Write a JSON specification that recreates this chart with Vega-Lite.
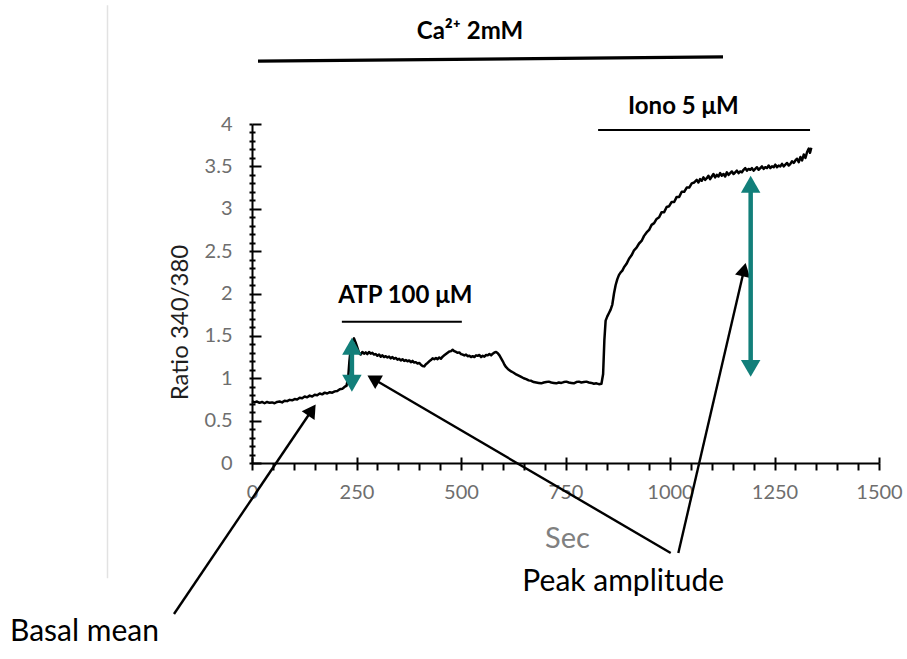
{
  "$schema": "https://vega.github.io/schema/vega-lite/v6.json",
  "autosize": "none",
  "width": 627,
  "height": 339,
  "padding": {"left": 252, "top": 124, "right": 28, "bottom": 196},
  "background": "white",
  "config": {"view": {"stroke": null}},
  "resolve": {"axis": {"x": "independent", "y": "independent"}},
  "datasets": {
    "trace": [
      {"t":0,"r":0.73},{"t":6,"r":0.715},{"t":12,"r":0.725},{"t":18,"r":0.71},{"t":24,"r":0.72},{"t":30,"r":0.705},{"t":36,"r":0.72},{"t":42,"r":0.71},{"t":48,"r":0.715},{"t":54,"r":0.705},{"t":60,"r":0.72},{"t":66,"r":0.725},{"t":72,"r":0.715},{"t":78,"r":0.735},{"t":84,"r":0.73},{"t":90,"r":0.745},{"t":96,"r":0.74},{"t":102,"r":0.755},{"t":108,"r":0.75},{"t":114,"r":0.77},{"t":120,"r":0.765},{"t":126,"r":0.785},{"t":132,"r":0.775},{"t":138,"r":0.795},{"t":144,"r":0.785},{"t":150,"r":0.805},{"t":156,"r":0.8},{"t":162,"r":0.82},{"t":168,"r":0.81},{"t":174,"r":0.83},{"t":180,"r":0.82},{"t":186,"r":0.835},{"t":192,"r":0.83},{"t":198,"r":0.845},{"t":204,"r":0.85},{"t":210,"r":0.87},{"t":216,"r":0.875},{"t":222,"r":0.9},{"t":226,"r":0.91},{"t":230,"r":1.0},{"t":233,"r":1.2},{"t":236,"r":1.34},{"t":240,"r":1.43},{"t":244,"r":1.47},{"t":248,"r":1.42},{"t":252,"r":1.36},{"t":256,"r":1.3},{"t":260,"r":1.28},{"t":264,"r":1.31},{"t":268,"r":1.29},{"t":272,"r":1.305},{"t":276,"r":1.285},{"t":280,"r":1.31},{"t":284,"r":1.29},{"t":288,"r":1.3},{"t":292,"r":1.28},{"t":296,"r":1.285},{"t":300,"r":1.265},{"t":304,"r":1.28},{"t":308,"r":1.255},{"t":312,"r":1.27},{"t":316,"r":1.25},{"t":320,"r":1.26},{"t":324,"r":1.245},{"t":328,"r":1.255},{"t":332,"r":1.235},{"t":336,"r":1.25},{"t":340,"r":1.23},{"t":344,"r":1.24},{"t":348,"r":1.22},{"t":352,"r":1.23},{"t":356,"r":1.21},{"t":360,"r":1.225},{"t":364,"r":1.205},{"t":368,"r":1.215},{"t":372,"r":1.2},{"t":376,"r":1.21},{"t":380,"r":1.19},{"t":384,"r":1.205},{"t":388,"r":1.185},{"t":392,"r":1.19},{"t":396,"r":1.175},{"t":400,"r":1.18},{"t":404,"r":1.16},{"t":408,"r":1.145},{"t":412,"r":1.14},{"t":416,"r":1.165},{"t":420,"r":1.18},{"t":424,"r":1.2},{"t":428,"r":1.215},{"t":432,"r":1.235},{"t":436,"r":1.225},{"t":440,"r":1.24},{"t":444,"r":1.225},{"t":448,"r":1.245},{"t":452,"r":1.23},{"t":456,"r":1.255},{"t":460,"r":1.27},{"t":464,"r":1.285},{"t":468,"r":1.3},{"t":472,"r":1.315},{"t":476,"r":1.32},{"t":480,"r":1.335},{"t":484,"r":1.32},{"t":488,"r":1.31},{"t":492,"r":1.3},{"t":496,"r":1.305},{"t":500,"r":1.285},{"t":504,"r":1.28},{"t":508,"r":1.27},{"t":512,"r":1.28},{"t":516,"r":1.26},{"t":520,"r":1.265},{"t":524,"r":1.25},{"t":528,"r":1.26},{"t":532,"r":1.25},{"t":536,"r":1.27},{"t":540,"r":1.265},{"t":544,"r":1.275},{"t":548,"r":1.25},{"t":552,"r":1.265},{"t":556,"r":1.255},{"t":560,"r":1.275},{"t":564,"r":1.27},{"t":568,"r":1.285},{"t":572,"r":1.27},{"t":576,"r":1.29},{"t":580,"r":1.305},{"t":584,"r":1.31},{"t":588,"r":1.295},{"t":592,"r":1.27},{"t":596,"r":1.235},{"t":600,"r":1.2},{"t":604,"r":1.16},{"t":608,"r":1.13},{"t":612,"r":1.11},{"t":616,"r":1.095},{"t":620,"r":1.08},{"t":626,"r":1.065},{"t":632,"r":1.045},{"t":638,"r":1.03},{"t":644,"r":1.015},{"t":650,"r":1.0},{"t":656,"r":0.99},{"t":662,"r":0.975},{"t":668,"r":0.97},{"t":674,"r":0.955},{"t":680,"r":0.95},{"t":686,"r":0.945},{"t":692,"r":0.94},{"t":698,"r":0.95},{"t":704,"r":0.955},{"t":710,"r":0.96},{"t":716,"r":0.95},{"t":722,"r":0.945},{"t":728,"r":0.94},{"t":734,"r":0.95},{"t":740,"r":0.945},{"t":746,"r":0.955},{"t":752,"r":0.96},{"t":758,"r":0.95},{"t":764,"r":0.945},{"t":770,"r":0.94},{"t":776,"r":0.955},{"t":782,"r":0.96},{"t":788,"r":0.95},{"t":794,"r":0.955},{"t":800,"r":0.96},{"t":806,"r":0.95},{"t":812,"r":0.945},{"t":818,"r":0.935},{"t":824,"r":0.94},{"t":830,"r":0.93},{"t":836,"r":0.935},{"t":840,"r":1.05},{"t":843,"r":1.45},{"t":846,"r":1.68},{"t":850,"r":1.73},{"t":854,"r":1.77},{"t":858,"r":1.81},{"t":862,"r":1.87},{"t":866,"r":2.0},{"t":870,"r":2.1},{"t":874,"r":2.17},{"t":878,"r":2.22},{"t":882,"r":2.25},{"t":886,"r":2.27},{"t":890,"r":2.31},{"t":896,"r":2.35},{"t":902,"r":2.41},{"t":908,"r":2.45},{"t":914,"r":2.51},{"t":920,"r":2.54},{"t":926,"r":2.59},{"t":932,"r":2.62},{"t":938,"r":2.68},{"t":944,"r":2.72},{"t":950,"r":2.75},{"t":956,"r":2.81},{"t":962,"r":2.83},{"t":968,"r":2.88},{"t":974,"r":2.9},{"t":980,"r":2.96},{"t":986,"r":2.96},{"t":992,"r":3.02},{"t":998,"r":3.03},{"t":1004,"r":3.08},{"t":1010,"r":3.08},{"t":1016,"r":3.14},{"t":1022,"r":3.14},{"t":1028,"r":3.2},{"t":1034,"r":3.2},{"t":1040,"r":3.25},{"t":1046,"r":3.25},{"t":1052,"r":3.3},{"t":1058,"r":3.31},{"t":1064,"r":3.34},{"t":1068,"r":3.31},{"t":1072,"r":3.35},{"t":1076,"r":3.33},{"t":1080,"r":3.37},{"t":1084,"r":3.34},{"t":1088,"r":3.36},{"t":1092,"r":3.39},{"t":1096,"r":3.35},{"t":1100,"r":3.38},{"t":1104,"r":3.41},{"t":1108,"r":3.37},{"t":1112,"r":3.4},{"t":1116,"r":3.38},{"t":1120,"r":3.42},{"t":1124,"r":3.39},{"t":1128,"r":3.41},{"t":1132,"r":3.38},{"t":1136,"r":3.43},{"t":1140,"r":3.4},{"t":1144,"r":3.42},{"t":1148,"r":3.44},{"t":1152,"r":3.41},{"t":1156,"r":3.43},{"t":1160,"r":3.45},{"t":1164,"r":3.42},{"t":1168,"r":3.44},{"t":1172,"r":3.43},{"t":1176,"r":3.46},{"t":1180,"r":3.48},{"t":1184,"r":3.45},{"t":1188,"r":3.47},{"t":1192,"r":3.46},{"t":1196,"r":3.48},{"t":1200,"r":3.45},{"t":1204,"r":3.47},{"t":1208,"r":3.49},{"t":1212,"r":3.46},{"t":1216,"r":3.48},{"t":1220,"r":3.5},{"t":1224,"r":3.47},{"t":1228,"r":3.49},{"t":1232,"r":3.48},{"t":1236,"r":3.51},{"t":1240,"r":3.48},{"t":1244,"r":3.5},{"t":1248,"r":3.49},{"t":1252,"r":3.52},{"t":1256,"r":3.49},{"t":1260,"r":3.51},{"t":1264,"r":3.5},{"t":1268,"r":3.53},{"t":1272,"r":3.5},{"t":1276,"r":3.52},{"t":1280,"r":3.54},{"t":1284,"r":3.51},{"t":1288,"r":3.53},{"t":1292,"r":3.56},{"t":1296,"r":3.54},{"t":1300,"r":3.57},{"t":1304,"r":3.59},{"t":1308,"r":3.55},{"t":1312,"r":3.61},{"t":1316,"r":3.57},{"t":1320,"r":3.64},{"t":1324,"r":3.6},{"t":1328,"r":3.67},{"t":1332,"r":3.71},{"t":1335,"r":3.66},{"t":1338,"r":3.72}
    ]
  },
  "layer": [
    {
      "data": {"values": [{"x": -345.7, "y": 5.40, "y2": -1.36}]},
      "mark": {"type": "rule", "color": "#e2e2e2", "strokeWidth": 1.5},
      "encoding": {
        "x": {"field": "x", "type": "quantitative", "scale": {"domain": [0, 1500], "nice": false}, "axis": null},
        "y": {"field": "y", "type": "quantitative", "scale": {"domain": [0, 4], "nice": false}, "axis": null},
        "y2": {"field": "y2"}
      }
    },
    {
      "data": {"name": "trace"},
      "mark": {"type": "line", "color": "black", "strokeWidth": 2.5, "strokeJoin": "round"},
      "encoding": {
        "x": {
          "field": "t", "type": "quantitative",
          "scale": {"domain": [0, 1500], "nice": false},
          "axis": {
            "orient": "bottom",
            "values": [0,50,100,150,200,250,300,350,400,450,500,550,600,650,700,750,800,850,900,950,1000,1050,1100,1150,1200,1250,1300,1350,1400,1450,1500],
            "labelExpr": "datum.value % 250 === 0 ? '' + datum.value : ''",
            "grid": false, "domainColor": "black", "domainWidth": 2,
            "tickColor": "black", "tickWidth": 2, "tickSize": 7,
            "labelFont": "Lato", "labelFontSize": 20, "labelColor": "#6e6e6e", "labelPadding": 12,
            "labelOverlap": false, "labelFlush": false,
            "title": "Sec", "titleFont": "Lato", "titleFontSize": 29, "titleFontWeight": "normal",
            "titleColor": "#808080", "titleX": 315, "titleY": 75, "titleBaseline": "middle", "titleAlign": "center"
          }
        },
        "y": {
          "field": "r", "type": "quantitative",
          "scale": {"domain": [0, 4], "nice": false},
          "axis": {
            "orient": "left",
            "values": [0,0.1,0.2,0.3,0.4,0.5,0.6,0.7,0.8,0.9,1,1.1,1.2,1.3,1.4,1.5,1.6,1.7,1.8,1.9,2,2.1,2.2,2.3,2.4,2.5,2.6,2.7,2.8,2.9,3,3.1,3.2,3.3,3.4,3.5,3.6,3.7,3.8,3.9,4],
            "labelExpr": "abs(datum.value * 2 - round(datum.value * 2)) < 0.001 ? '' + datum.value : ''",
            "grid": false, "domainColor": "black", "domainWidth": 2,
            "tickColor": "black", "tickWidth": 2, "tickSize": 3,
            "labelFont": "Lato", "labelFontSize": 20, "labelColor": "#6e6e6e", "labelPadding": 17,
            "labelOverlap": false, "labelFlush": false,
            "title": "Ratio 340/380", "titleFont": "Lato", "titleFontSize": 24, "titleFontWeight": "normal",
            "titleColor": "#1e1e1e", "titleX": -72, "titleY": 198, "titleBaseline": "middle", "titleAlign": "center", "titleAngle": -90
          }
        }
      }
    },
    {
      "data": {"values": [{"x": 215, "x2": 502, "y": 1.667}]},
      "mark": {"type": "rule", "color": "black", "strokeWidth": 2},
      "encoding": {
        "x": {
          "field": "x", "type": "quantitative",
          "scale": {"domain": [0, 1500], "nice": false},
          "axis": {
            "orient": "bottom",
            "values": [0,250,500,750,1000,1250,1500],
            "labels": false, "domain": false, "grid": false, "title": null,
            "tickColor": "black", "tickWidth": 2, "tickSize": -6
          }
        },
        "x2": {"field": "x2"},
        "y": {
          "field": "y", "type": "quantitative",
          "scale": {"domain": [0, 4], "nice": false},
          "axis": {
            "orient": "left",
            "values": [0,0.1,0.2,0.3,0.4,0.5,0.6,0.7,0.8,0.9,1,1.1,1.2,1.3,1.4,1.5,1.6,1.7,1.8,1.9,2,2.1,2.2,2.3,2.4,2.5,2.6,2.7,2.8,2.9,3,3.1,3.2,3.3,3.4,3.5,3.6,3.7,3.8,3.9,4],
            "labels": false, "domain": false, "grid": false, "title": null,
            "tickColor": "black", "tickWidth": 2,
            "tickSize": {"condition": {"test": "abs(datum.value * 2 - round(datum.value * 2)) < 0.001", "value": -9}, "value": -3}
          }
        }
      }
    },
    {
      "data": {"values": [{"x": 828, "x2": 1335, "y": 3.93}]},
      "mark": {"type": "rule", "color": "black", "strokeWidth": 2},
      "encoding": {
        "x": {"field": "x", "type": "quantitative", "scale": {"domain": [0, 1500], "nice": false}, "axis": null},
        "x2": {"field": "x2"},
        "y": {"field": "y", "type": "quantitative", "scale": {"domain": [0, 4], "nice": false}, "axis": null}
      }
    },
    {
      "data": {"values": [{"x": 14.4, "x2": 1126.8, "y": 4.743, "y2": 4.791}]},
      "mark": {"type": "rule", "color": "black", "strokeWidth": 3.2},
      "encoding": {
        "x": {"field": "x", "type": "quantitative", "scale": {"domain": [0, 1500], "nice": false}, "axis": null},
        "x2": {"field": "x2"},
        "y": {"field": "y", "type": "quantitative", "scale": {"domain": [0, 4], "nice": false}, "axis": null},
        "y2": {"field": "y2"}
      }
    },
    {
      "data": {"values": [
        {"arrow": "basal", "x": -186.6, "y": -1.782, "x2": 140.3, "y2": 0.602},
        {"arrow": "atp", "x": 1001.7, "y": -1.062, "x2": 294.7, "y2": 0.979},
        {"arrow": "iono", "x": 1019.9, "y": -1.062, "x2": 1176.1, "y2": 2.256}
      ]},
      "mark": {"type": "rule", "color": "black", "strokeWidth": 2.4},
      "encoding": {
        "x": {"field": "x", "type": "quantitative", "scale": {"domain": [0, 1500], "nice": false}, "axis": null},
        "x2": {"field": "x2"},
        "y": {"field": "y", "type": "quantitative", "scale": {"domain": [0, 4], "nice": false}, "axis": null},
        "y2": {"field": "y2"}
      }
    },
    {
      "data": {"values": [{"x": 140.3, "y": 0.602}]},
      "mark": {"type": "point", "shape": "triangle", "filled": true, "color": "black", "size": 240, "angle": 34, "opacity": 1},
      "encoding": {
        "x": {"field": "x", "type": "quantitative", "scale": {"domain": [0, 1500], "nice": false}, "axis": null},
        "y": {"field": "y", "type": "quantitative", "scale": {"domain": [0, 4], "nice": false}, "axis": null}
      }
    },
    {
      "data": {"values": [{"x": 294.7, "y": 0.979}]},
      "mark": {"type": "point", "shape": "triangle", "filled": true, "color": "black", "size": 240, "angle": -60, "opacity": 1},
      "encoding": {
        "x": {"field": "x", "type": "quantitative", "scale": {"domain": [0, 1500], "nice": false}, "axis": null},
        "y": {"field": "y", "type": "quantitative", "scale": {"domain": [0, 4], "nice": false}, "axis": null}
      }
    },
    {
      "data": {"values": [{"x": 1176.1, "y": 2.256}]},
      "mark": {"type": "point", "shape": "triangle", "filled": true, "color": "black", "size": 240, "angle": 13, "opacity": 1},
      "encoding": {
        "x": {"field": "x", "type": "quantitative", "scale": {"domain": [0, 1500], "nice": false}, "axis": null},
        "y": {"field": "y", "type": "quantitative", "scale": {"domain": [0, 4], "nice": false}, "axis": null}
      }
    },
    {
      "data": {"values": [
        {"x": 239, "y": 1.378, "y2": 0.941},
        {"x": 1193, "y": 3.289, "y2": 1.116}
      ]},
      "mark": {"type": "rule", "color": "#127f7a", "strokeWidth": 4.5},
      "encoding": {
        "x": {"field": "x", "type": "quantitative", "scale": {"domain": [0, 1500], "nice": false}, "axis": null},
        "y": {"field": "y", "type": "quantitative", "scale": {"domain": [0, 4], "nice": false}, "axis": null},
        "y2": {"field": "y2"}
      }
    },
    {
      "data": {"values": [{"x": 239, "y": 1.378}, {"x": 1193, "y": 3.289}]},
      "mark": {"type": "point", "shape": "triangle-up", "filled": true, "color": "#127f7a", "size": 380, "opacity": 1},
      "encoding": {
        "x": {"field": "x", "type": "quantitative", "scale": {"domain": [0, 1500], "nice": false}, "axis": null},
        "y": {"field": "y", "type": "quantitative", "scale": {"domain": [0, 4], "nice": false}, "axis": null}
      }
    },
    {
      "data": {"values": [{"x": 239, "y": 0.941}, {"x": 1193, "y": 1.116}]},
      "mark": {"type": "point", "shape": "triangle-down", "filled": true, "color": "#127f7a", "size": 380, "opacity": 1},
      "encoding": {
        "x": {"field": "x", "type": "quantitative", "scale": {"domain": [0, 1500], "nice": false}, "axis": null},
        "y": {"field": "y", "type": "quantitative", "scale": {"domain": [0, 4], "nice": false}, "axis": null}
      }
    },
    {
      "data": {"values": [
        {"x": 521.5, "y": 5.085, "label": "Ca²⁺ 2mM"},
        {"x": 1032, "y": 4.2, "label": "Iono 5 μM"},
        {"x": 367, "y": 1.965, "label": "ATP 100 μM"}
      ]},
      "mark": {"type": "text", "font": "Lato, DejaVu Sans", "fontWeight": "bold", "fontSize": 24, "color": "black", "align": "center", "baseline": "middle"},
      "encoding": {
        "x": {"field": "x", "type": "quantitative", "scale": {"domain": [0, 1500], "nice": false}, "axis": null},
        "y": {"field": "y", "type": "quantitative", "scale": {"domain": [0, 4], "nice": false}, "axis": null},
        "text": {"field": "label"}
      }
    },
    {
      "data": {"values": [{"x": -579, "y": -1.995, "label": "Basal mean"}]},
      "mark": {"type": "text", "font": "Lato", "fontSize": 30, "color": "black", "align": "left", "baseline": "middle"},
      "encoding": {
        "x": {"field": "x", "type": "quantitative", "scale": {"domain": [0, 1500], "nice": false}, "axis": null},
        "y": {"field": "y", "type": "quantitative", "scale": {"domain": [0, 4], "nice": false}, "axis": null},
        "text": {"field": "label"}
      }
    },
    {
      "data": {"values": [{"x": 888, "y": -1.405, "label": "Peak amplitude"}]},
      "mark": {"type": "text", "font": "Lato", "fontSize": 30, "color": "black", "align": "center", "baseline": "middle"},
      "encoding": {
        "x": {"field": "x", "type": "quantitative", "scale": {"domain": [0, 1500], "nice": false}, "axis": null},
        "y": {"field": "y", "type": "quantitative", "scale": {"domain": [0, 4], "nice": false}, "axis": null},
        "text": {"field": "label"}
      }
    }
  ]
}
